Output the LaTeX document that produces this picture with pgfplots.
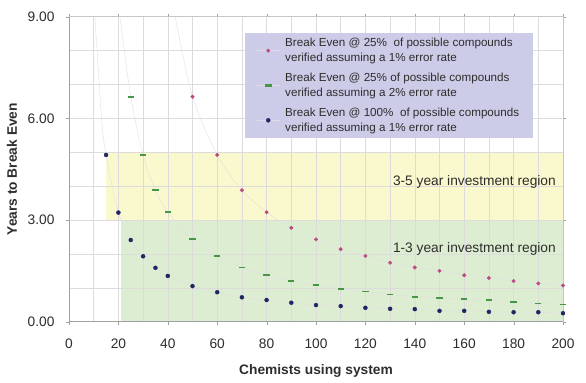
\documentclass[border=0pt]{standalone}
\usepackage{pgfplots}
\pgfplotsset{compat=1.18}
\usepackage{fontspec}
\setmainfont{Liberation Sans}
\definecolor{txt}{RGB}{45,45,45}
\definecolor{magm}{RGB}{185,75,130}
\definecolor{grnm}{RGB}{70,150,70}
\definecolor{blum}{RGB}{30,38,100}
\definecolor{yel}{RGB}{250,248,205}
\definecolor{grf}{RGB}{221,237,210}
\definecolor{lav}{RGB}{204,204,232}
\definecolor{trend}{RGB}{228,220,228}
\definecolor{gridc}{RGB}{220,220,220}
\definecolor{axc}{RGB}{160,160,160}
\begin{document}
\begin{tikzpicture}
\begin{axis}[
  set layers,
  at={(0,0)}, anchor=south west,
  scale only axis, width=494bp, height=305bp,
  xmin=0, xmax=200, ymin=0, ymax=9,
  xtick={0,20,...,200}, minor xtick={10,30,...,190},
  ytick={0,3,6,9}, minor ytick={1,2,4,5,7,8},
  grid=both, major grid style={gridc, line width=0.6pt}, minor grid style={gridc, line width=0.6pt},
  axis line style={axc!60, line width=0.6pt},
  tick align=outside, major tick length=3pt, minor tick length=0pt,
  tick style={axc},
  /pgf/number format/assume math mode=true,
  yticklabel style={/pgf/number format/fixed, /pgf/number format/fixed zerofill, /pgf/number format/precision=2},
  ticklabel style={font=\fontsize{13.8}{16}\selectfont, text=txt},
  xticklabel style={yshift=-11bp},
  yticklabel style={xshift=-8bp},
  xlabel={\textbf{Chemists using system}},
  ylabel={\textbf{Years to Break Even}},
  label style={font=\fontsize{13.8}{16}\selectfont, text=txt},
  xlabel style={yshift=-9bp},
  ylabel style={yshift=4bp},
  legend style={at={(0.356,0.9466)}, anchor=north west, draw=none, fill=lav,
    font=\fontsize{11.7}{15}\selectfont, text=txt, row sep=6pt,
    inner xsep=12pt, inner ysep=3pt,
    nodes={align=left}},
  legend cell align=left,
  legend image code/.code={\draw[trend, line width=0.4pt] (-0.05cm,0cm) -- (0.75cm,0cm);
    \draw[#1] plot coordinates {(0.34cm,0cm)};
    \path (0.86cm,0cm);},
]
% regions
\addplot[draw=none, fill=yel, forget plot, on layer=axis background] coordinates {(15,3) (200,3) (200,5) (15,5)} -- cycle;
\addplot[draw=none, fill=grf, forget plot, on layer=axis background] coordinates {(21,0) (200,0) (200,3) (21,3)} -- cycle;
% trend lines
\addplot[trend, line width=0.4pt, smooth, forget plot] coordinates {
 (43,9) (50,6.64) (60,4.92) (70,3.88) (80,3.23) (90,2.77) (100,2.43) (110,2.14) (120,1.94) (130,1.74) (140,1.60) (150,1.50) (160,1.37) (170,1.29) (180,1.20) (190,1.13) (200,1.07)};
\addplot[trend, line width=0.4pt, smooth, forget plot] coordinates {
 (20.6,9) (25,6.64) (30,4.92) (35,3.88) (40,3.23) (50,2.43) (60,1.95) (70,1.60) (80,1.37) (90,1.21) (100,1.08) (110,0.97) (120,0.89) (130,0.80) (140,0.74) (150,0.71) (160,0.66) (170,0.64) (180,0.57) (190,0.54) (200,0.51)};
\addplot[trend, line width=0.4pt, smooth, forget plot] coordinates {
 (10.5,9) (13.2,6) (15,4.92) (20,3.22) (25,2.41) (30,1.93) (35,1.59) (40,1.35) (50,1.05) (60,0.87) (70,0.72) (80,0.64) (90,0.56) (100,0.49) (110,0.46) (120,0.41) (130,0.38) (140,0.37) (150,0.32) (160,0.32) (170,0.29) (180,0.28) (190,0.28) (200,0.25)};
% series
\addplot[only marks, mark=*, mark size=1.8pt, color=magm] coordinates {
 (50,6.64) (60,4.92) (70,3.88) (80,3.23) (90,2.77) (100,2.43) (110,2.14) (120,1.94) (130,1.74) (140,1.60) (150,1.50) (160,1.37) (170,1.29) (180,1.20) (190,1.13) (200,1.07)};
\addlegendentry{Break Even @ 25\%\ \ of possible compounds\\verified assuming a 1\% error rate}
\addplot[only marks, mark=-, mark size=3.2pt, color=grnm, mark options={line width=1.8pt},
  legend image code/.code={\draw[trend, line width=0.4pt] (-0.05cm,0cm) -- (0.75cm,0cm);
    \fill[grnm] (0.23cm,-1.1pt) rectangle (0.46cm,1.1pt);
    \path (0.86cm,0cm);}] coordinates {
 (25,6.64) (30,4.92) (35,3.88) (40,3.23) (50,2.43) (60,1.95) (70,1.60) (80,1.37) (90,1.21) (100,1.08) (110,0.97) (120,0.89) (130,0.80) (140,0.74) (150,0.71) (160,0.66) (170,0.64) (180,0.57) (190,0.54) (200,0.51)};
\addlegendentry{Break Even @ 25\% of possible compounds\\verified assuming a 2\% error rate}
\addplot[only marks, mark=*, mark size=2pt, color=blum] coordinates {
 (15,4.92) (20,3.22) (25,2.41) (30,1.93) (35,1.59) (40,1.35) (50,1.05) (60,0.87) (70,0.72) (80,0.64) (90,0.56) (100,0.49) (110,0.46) (120,0.41) (130,0.38) (140,0.37) (150,0.32) (160,0.32) (170,0.29) (180,0.28) (190,0.28) (200,0.25)};
\addlegendentry{Break Even @ 100\%\ \ of possible compounds\\verified assuming a 1\% error rate}
\node[anchor=east, font=\fontsize{13.8}{16}\selectfont, text=txt] at (axis cs:198.5,4.12) {3-5 year investment region};
\node[anchor=east, font=\fontsize{13.8}{16}\selectfont, text=txt] at (axis cs:198.5,2.14) {1-3 year investment region};
\draw[axc, line width=1.6pt] (axis cs:0,9) -- (axis cs:0,0) -- (axis cs:200,0);
\end{axis}
\pgfresetboundingbox
\path (-69bp,-61.3bp) rectangle (517bp,321.7bp);
\end{tikzpicture}
\end{document}
